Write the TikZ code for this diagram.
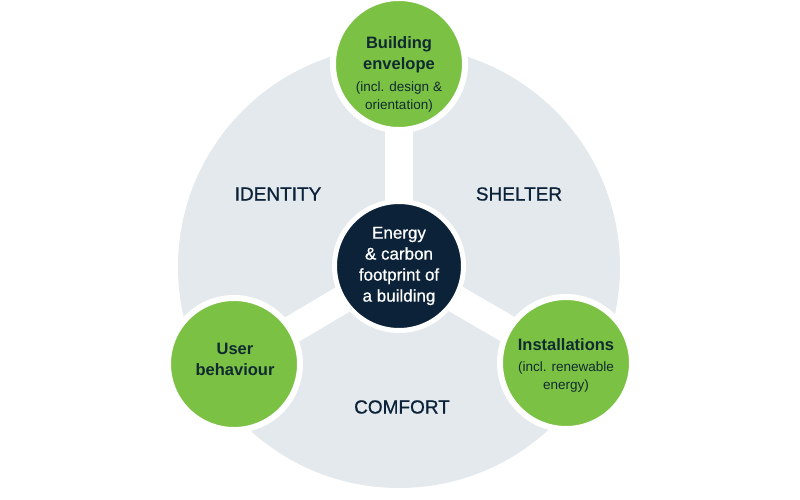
\documentclass[tikz,border=0pt]{standalone}
\usepackage{fontspec}
\setmainfont{Liberation Sans}
\newfontfamily\medfont[FakeBold=0.8]{Liberation Sans}
\pgfdeclarelayer{back}
\pgfdeclarelayer{mid}
\pgfsetlayers{back,mid,main}
\definecolor{grayc}{HTML}{E3E9EC}
\definecolor{greenc}{HTML}{7BC143}
\definecolor{navyc}{HTML}{0B2239}
\definecolor{darktxt}{HTML}{0F2A30}
\tikzset{
  hub/.style={circle, fill=navyc, draw=white, line width=5pt, minimum size=129pt, inner sep=0pt},
  leaf/.style={circle, fill=greenc, draw=white, line width=6pt, minimum size=132pt, inner sep=0pt},
  spoke/.style={draw=white, line width=28pt},
  ttl/.style={align=center, text=darktxt, font=\bfseries\fontsize{16.5}{21}\selectfont},
  sub/.style={align=center, text=darktxt, font=\fontsize{13.5}{17.5}\selectfont},
  hubtxt/.style={align=center, text=white, font=\medfont\fontsize{17}{21}\selectfont},
  lbl/.style={text=navyc, font=\medfont\fontsize{19}{22}\selectfont}
}
\begin{document}
\begin{tikzpicture}[x=1pt,y=-1pt]
\useasboundingbox (0,0) rectangle (800,500);
\begin{pgfonlayer}{back}
  \fill[grayc] (399,267) circle (221pt);
\end{pgfonlayer}
\node[hub] (ctr) at (399,266) {};
\node[leaf] (top) at (399,64) {};
\node[leaf] (usr) at (234,364) {};
\node[leaf] (ins) at (566,363) {};
\begin{pgfonlayer}{mid}
  \draw[spoke] (ctr.center) -- (top.center);
  \draw[spoke] (ctr.center) -- (usr.center);
  \draw[spoke] (ctr.center) -- (ins.center);
\end{pgfonlayer}
\node[hubtxt] (ctrT) at (399,266) {Energy\\\& carbon\\footprint of\\a building};
\node[ttl] (topT) at (399,55) {Building\\envelope};
\node[sub] (topS) at (399,97) {(incl. design \&\\orientation)};
\node[ttl] (usrT) at (235,359) {User\\behaviour};
\node[ttl] (insT) at (566,345) {Installations};
\node[sub] (insS) at (566,377) {(incl. renewable\\energy)};
\node[lbl] (idL) at (278,194) {IDENTITY};
\node[lbl] (shL) at (519,194) {SHELTER};
\node[lbl] (coL) at (402,407) {COMFORT};
\end{tikzpicture}
\end{document}
